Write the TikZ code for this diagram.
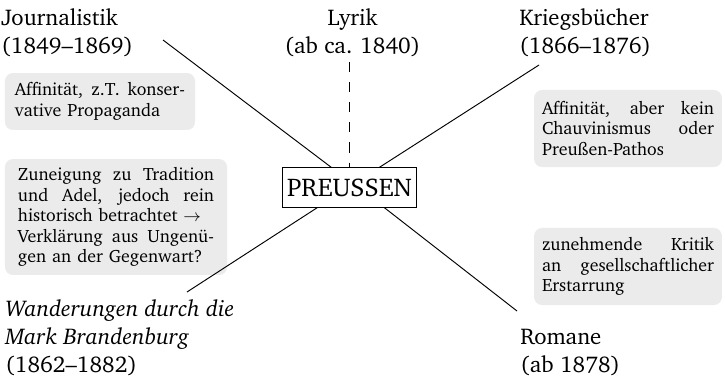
\documentclass[tikz,border=0pt]{standalone}
\usepackage[T1]{fontenc}
\usepackage{charter}
\definecolor{boxgray}{RGB}{235,235,235}
\newcommand{\jl}[1]{\hbox to \hsize{\spaceskip=0pt\xspaceskip=0pt #1}}
\begin{document}
\begin{tikzpicture}[x=0.527pt,y=-0.527pt,
  lbl/.style={inner sep=0pt, align=left, font=\fontsize{12}{14.5}\selectfont},
  pbox/.style={draw, line width=0.5pt, inner sep=0pt, minimum width=71.1pt, minimum height=20.6pt, font=\fontsize{13.5}{16}\selectfont},
  gbox/.style={fill=boxgray, rounded corners=4.2pt, inner ysep=0pt, font=\fontsize{9.4}{10.8}\selectfont},
  conn/.style={line width=0.5pt}]
\useasboundingbox (0,0) rectangle (725,378);
% labels (anchored at the baseline of their last line)
\node[lbl, anchor=base west] (J) at (1,53) {Journalistik\\(1849--1869)};
\node[lbl, align=center, anchor=base] (L) at (352.5,53) {Lyrik\\(ab ca. 1840)};
\node[lbl, anchor=base west] (K) at (519,53) {Kriegsb\"ucher\\(1866--1876)};
\node[lbl, anchor=base west] (W) at (5,372) {\textit{Wanderungen durch die}\\\textit{Mark Brandenburg}\\(1862--1882)};
\node[lbl, anchor=base west] (R) at (520,372) {Romane\\(ab 1878)};
% centre
\node[pbox] (P) at (349.5,187.5) {PREUSSEN};
% grey boxes
\node[gbox, text width=89.6pt, inner xsep=5.27pt, minimum height=30pt] (B1) at (100,101.5)
  {\jl{Affinit\"at, z.T. konser-}\par\hbox{vative Propaganda}};
\node[gbox, text width=103.3pt, inner xsep=6.85pt, minimum height=61.1pt] (B2) at (116,217)
  {\jl{Zuneigung zu Tradition}\par\jl{und Adel, jedoch rein}\par\hbox{historisch betrachtet $\rightarrow$}\par\jl{Verkl\"arung aus Ungen\"u-}\par\hbox{gen an der Gegenwart?}};
\node[gbox, text width=90.6pt, inner xsep=4.2pt, minimum height=40.6pt] (B3) at (628,128.5)
  {\jl{Affinit\"at, aber kein}\par\jl{Chauvinismus oder}\par\hbox{Preu\ss en-Pathos}};
\node[gbox, text width=90.6pt, inner xsep=4.2pt, minimum height=40.6pt] (B4) at (628,266.5)
  {\jl{zunehmende Kritik}\par\jl{an gesellschaftlicher}\par\hbox{Erstarrung}};
% connector ends
\coordinate (cJ) at (163,40);
\coordinate (cL) at (349.5,62);
\coordinate (cK) at (539,65);
\coordinate (cW) at (187,292);
\coordinate (cR) at (517,311);
\draw[conn] (cJ) -- (P.132);
\draw[conn, dash pattern=on 5.3pt off 5.3pt] (cL) -- (P.north);
\draw[conn] (cK) -- (P.34);
\draw[conn] (cW) -- (P.212);
\draw[conn] (cR) -- (P.330);
\end{tikzpicture}
\end{document}
